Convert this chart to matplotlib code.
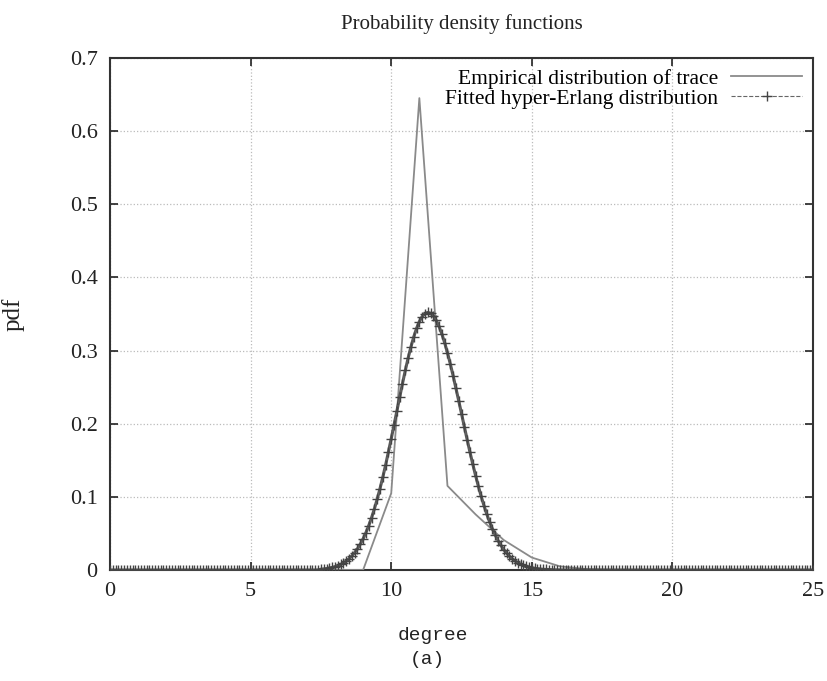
#!/usr/bin/env python3

import numpy as np
import matplotlib
matplotlib.use('Agg')
import matplotlib.pyplot as plt

# 经验分布 (整数度数)
emp_x = [0, 1, 2, 3, 4, 5, 6, 7, 8, 9, 10, 11, 12, 13, 14, 15, 16, 17, 18,
         19, 20, 21, 22, 23, 24, 25]
emp_y = [0, 0, 0, 0, 0, 0, 0, 0, 0, 0, 0.105, 0.645, 0.115, 0.076, 0.041,
         0.017, 0.005, 0.001, 0, 0, 0, 0, 0, 0, 0, 0]

# 拟合的 hyper-Erlang 分布, 采样步长 0.1
fit_x = np.round(np.arange(0, 25.05, 0.1), 1)
fit_y = ([0.0] * 75 +
         [0.0011, 0.0015, 0.0020, 0.0027, 0.0035, 0.0046, 0.0059, 0.0076, 0.0097, 0.0123,
          0.0155, 0.0193, 0.0238, 0.0291, 0.0354, 0.0427, 0.0511, 0.0607, 0.0715, 0.0835,
          0.0968, 0.1112, 0.1269, 0.1435, 0.1612, 0.1795, 0.1983, 0.2174, 0.2363, 0.2548,
          0.2727, 0.2896, 0.3049, 0.3186, 0.3302, 0.3396, 0.3464, 0.3506, 0.3520, 0.3508,
          0.3471, 0.3412, 0.3330, 0.3227, 0.3106, 0.2969, 0.2818, 0.2657, 0.2488, 0.2313,
          0.2135, 0.1957, 0.1782, 0.1611, 0.1447, 0.1291, 0.1143, 0.1005, 0.0878, 0.0761,
          0.0655, 0.0561, 0.0476, 0.0402, 0.0337, 0.0280, 0.0231, 0.0190, 0.0155, 0.0125,
          0.0101, 0.0080, 0.0064, 0.0050, 0.0039, 0.0030, 0.0023, 0.0018, 0.0014, 0.0010,
          0.0008, 0.0006, 0.0004, 0.0003, 0.0002, 0.0001] +
         [0.0] * 90)

x_ticks = [0, 5, 10, 15, 20, 25]
y_ticks = [0, 0.1, 0.2, 0.3, 0.4, 0.5, 0.6, 0.7]
y_labels = ['0', '0.1', '0.2', '0.3', '0.4', '0.5', '0.6', '0.7']

serif = 'Liberation Serif'
mono = 'Liberation Mono'

fig = plt.figure(figsize=(8.28, 6.81), dpi=100)
ax = fig.add_axes([0.1329, 0.163, 0.849, 0.752])

ax.plot(emp_x, emp_y, color='#8a8a8a', linewidth=1.3,
        label='Empirical distribution of trace', zorder=3)
# 曲线上密集的 + 号看起来像一条粗的深色带
ax.plot(fit_x, fit_y, color='#3a3a3a', linestyle='-', linewidth=2.2,
        alpha=0.85, zorder=4)
ax.plot(fit_x, fit_y, color='#666666', linestyle='--', linewidth=0.8,
        marker='+', markersize=7, markeredgewidth=1.0, markeredgecolor='#444444',
        label='Fitted hyper-Erlang distribution', zorder=5)

ax.set_xlim(0, 25)
ax.set_ylim(0, 0.7)
ax.set_xticks(x_ticks)
ax.set_yticks(y_ticks)
ax.set_yticklabels(y_labels)
for lbl in ax.get_xticklabels() + ax.get_yticklabels():
    lbl.set_family(serif)
    lbl.set_fontsize(16)
    lbl.set_color('#222222')
ax.tick_params(direction='in', length=6, width=1.2, top=True, right=True,
               colors='#222222', labelcolor='#222222')
ax.tick_params(axis='x', pad=9)
ax.tick_params(axis='y', pad=9)
ax.grid(True, color='#bbbbbb', linestyle=':', linewidth=0.9)
ax.set_axisbelow(True)
for s in ax.spines.values():
    s.set_linewidth(1.5)
    s.set_color('#333333')

ax.set_title('Probability density functions', family=serif, fontsize=15,
             pad=21, color='#222222')
ax.set_ylabel('pdf', family=serif, fontsize=18, color='#222222')
ax.yaxis.set_label_coords(-0.121, 0.5)

fig.text(433 / 828, 1 - 635 / 681, 'degree', family=mono, fontsize=14,
         ha='center', va='center', color='#222222')
fig.text(427 / 828, 1 - 660 / 681, '(a)', family=mono, fontsize=14,
         ha='center', va='center', color='#222222')

ax.legend(loc='upper right', frameon=False, markerfirst=False, numpoints=1,
          prop={'family': serif, 'size': 15.5}, handlelength=3.3,
          labelspacing=0.0, borderpad=0.2, borderaxespad=0.3, handletextpad=0.6)

plt.savefig('out.png', dpi=100)
plt.close()
